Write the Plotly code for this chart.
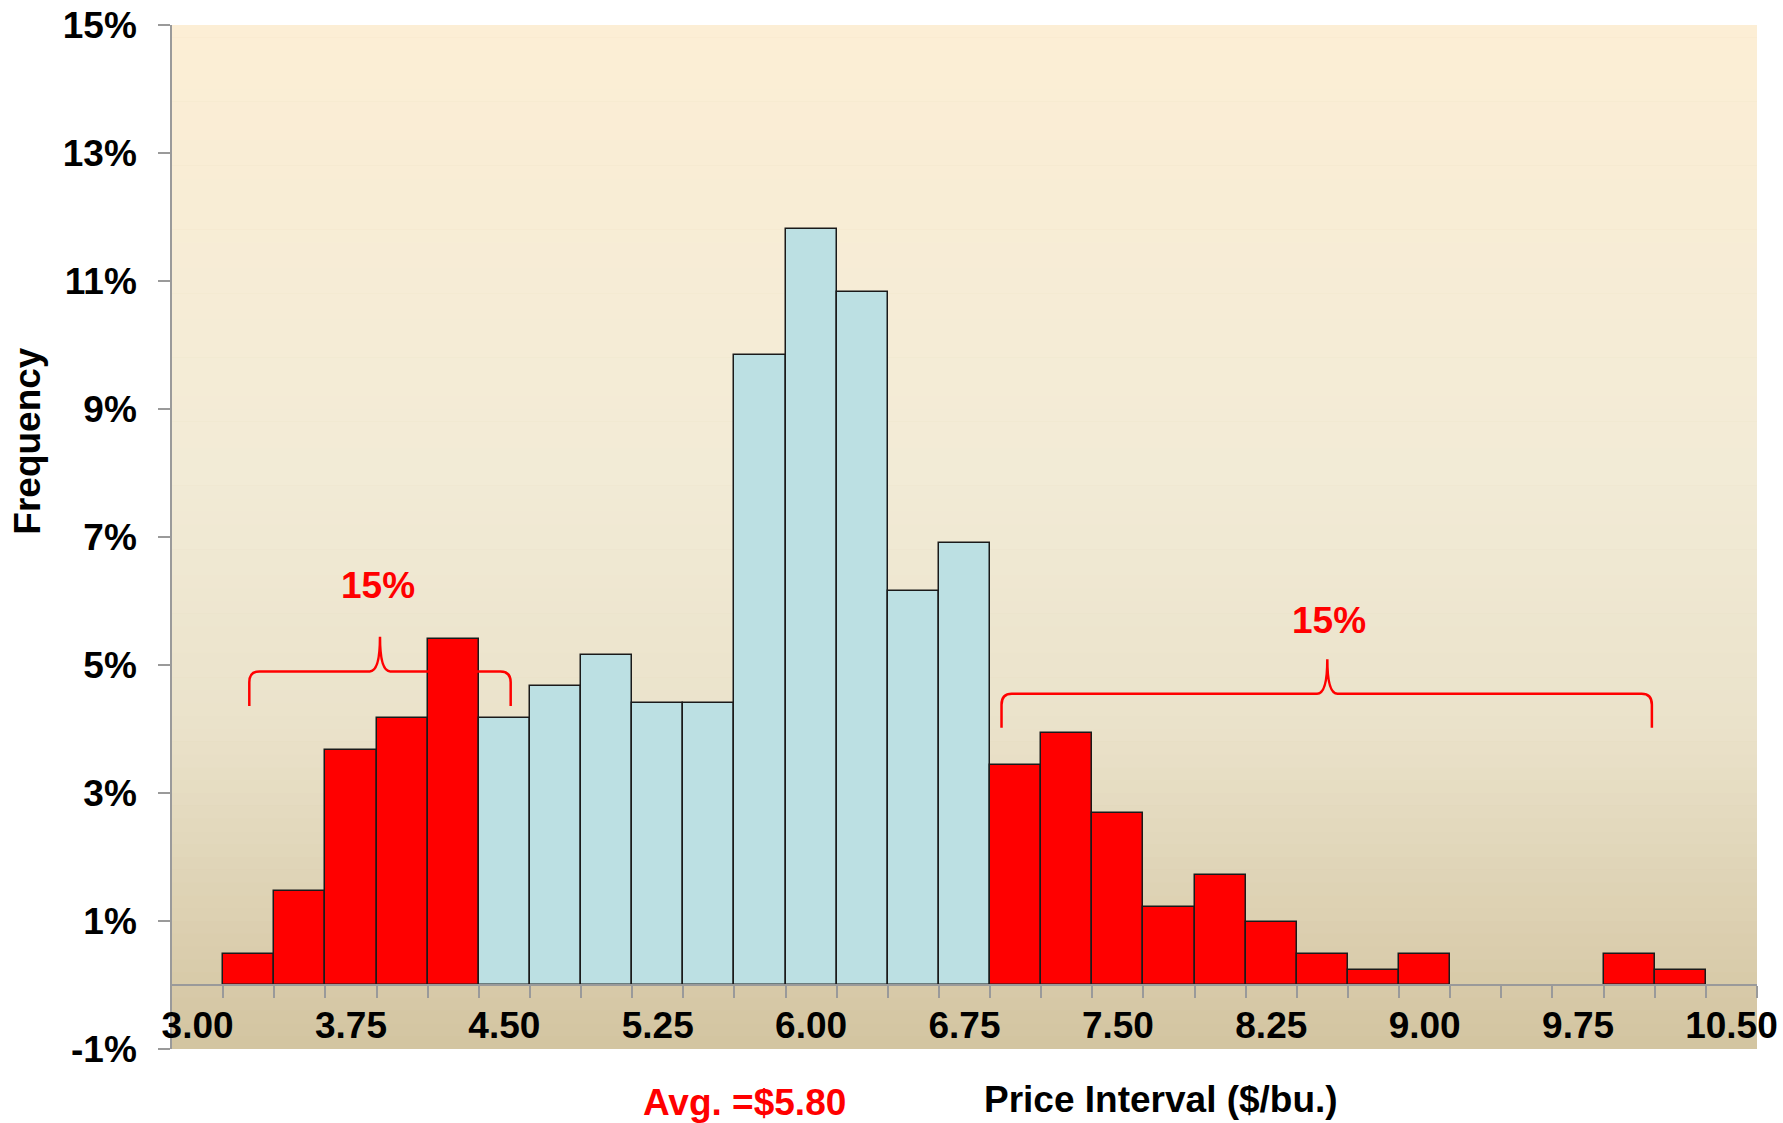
import plotly.graph_objects as go

# histogram bins ($/bu.) and frequency (%)
price_bins = [3.00, 3.25, 3.50, 3.75, 4.00, 4.25, 4.50, 4.75, 5.00, 5.25, 5.50,
              5.75, 6.00, 6.25, 6.50, 6.75, 7.00, 7.25, 7.50, 7.75, 8.00, 8.25,
              8.50, 8.75, 9.00, 9.25, 9.50, 9.75, 10.00, 10.25, 10.50]
freq_pct = [0, 0.48, 1.47, 3.67, 4.17, 5.41, 4.17, 4.67, 5.15, 4.40, 4.40,
            9.84, 11.81, 10.83, 6.16, 6.90, 3.43, 3.93, 2.69, 1.22, 1.72, 0.98,
            0.48, 0.24, 0.48, 0, 0, 0, 0.48, 0.24, 0]
y_ticks = [-1, 1, 3, 5, 7, 9, 11, 13, 15]

lower_tail_end = 4.25
upper_tail_start = 7.00
lower_tail_share = "15%"
upper_tail_share = "15%"
avg_price = 5.80

RED = "#FF0000"
BLUE = "#BCE0E3"
FONT = "Liberation Sans, Arial"
bin_w = 0.25

xs = [p for p, f in zip(price_bins, freq_pct) if f > 0]
ys = [f for f in freq_pct if f > 0]
cols = [RED if (p <= lower_tail_end or p >= upper_tail_start) else BLUE for p in xs]

fig = go.Figure()
fig.add_trace(go.Bar(x=xs, y=ys, width=bin_w, marker=dict(color=cols, line=dict(color="#1a1a1a", width=1.5)),
                     showlegend=False, hoverinfo="x+y"))

# gradient background drawn as thin bands
stops = [(-1, (211, 196, 160)), (4, (234, 226, 202)), (8, (242, 235, 214)), (15, (252, 238, 213))]
def col_at(v):
    for (a, ca), (b, cb) in zip(stops[:-1], stops[1:]):
        if a <= v <= b:
            t = (v - a) / (b - a)
            return "rgb(%d,%d,%d)" % tuple(round(ca[i] + (cb[i] - ca[i]) * t) for i in range(3))
    return "rgb(252,238,213)"
n_band = 80
for i in range(n_band):
    y0 = -1 + 16 * i / n_band
    y1 = -1 + 16 * (i + 1) / n_band
    fig.add_shape(type="rect", xref="paper", yref="y", x0=0, x1=1, y0=y0, y1=y1 + 0.01,
                  fillcolor=col_at((y0 + y1) / 2), line_width=0, layer="below")

# braces marking the tails
def brace(x0, x1, xm, yh, yend, ytip, rx=0.05, ry=0.17):
    return (f"M {x0},{yend} L {x0},{yh-ry} Q {x0},{yh} {x0+rx},{yh} L {xm-rx},{yh} "
            f"Q {xm},{yh} {xm},{ytip} Q {xm},{yh} {xm+rx},{yh} L {x1-rx},{yh} "
            f"Q {x1},{yh} {x1},{yh-ry} L {x1},{yend}")

fig.add_shape(type="path", xref="x", yref="y", path=brace(3.253, 4.531, 3.892, 4.90, 4.36, 5.44),
              line=dict(color=RED, width=2.5))
fig.add_shape(type="path", xref="x", yref="y", path=brace(6.931, 10.111, 8.524, 4.55, 4.02, 5.09),
              line=dict(color=RED, width=2.5))

big = dict(family=FONT, size=37, color="black", weight="bold")
red = dict(family=FONT, size=37, color=RED, weight="bold")
ann = dict(showarrow=False, xanchor="center", yanchor="middle")
fig.add_annotation(x=3.88, y=6.25, xref="x", yref="y", text=lower_tail_share, font=red, **ann)
fig.add_annotation(x=8.53, y=5.70, xref="x", yref="y", text=upper_tail_share, font=red, **ann)
fig.add_annotation(x=-0.0909, y=0.594, xref="paper", yref="paper", text="Frequency", textangle=-90,
                   font=big, **ann)
fig.add_annotation(x=0.624, y=-0.0498, xref="paper", yref="paper", text="Price Interval ($/bu.)",
                   font=big, **ann)
fig.add_annotation(x=0.3615, y=-0.0527, xref="paper", yref="paper", text=f"Avg. =${avg_price:.2f}",
                   font=red, **ann)

major = price_bins[::3]
fig.update_xaxes(range=[price_bins[0] - bin_w / 2, price_bins[-1] + bin_w / 2],
                 anchor="free", position=1 / 16, showline=True, linecolor="#9a9a9a", linewidth=1.5,
                 showgrid=False, zeroline=False, automargin=False, ticklabeloverflow="allow",
                 tickvals=major, ticktext=[f"{p:.2f}" for p in major],
                 ticks="outside", ticklen=8, tickcolor="rgba(0,0,0,0)", tickfont=big,
                 minor=dict(tickvals=[p + bin_w / 2 for p in price_bins], ticks="outside",
                            ticklen=12, tickcolor="#9a9a9a", tickwidth=1.5, showgrid=False))
fig.update_yaxes(range=[-1, 15], tickvals=y_ticks, ticktext=[f"{v}%" for v in y_ticks],
                 showline=True, linecolor="#9a9a9a", linewidth=1.5, showgrid=False, zeroline=False,
                 automargin=False, ticklabeloverflow="allow",
                 ticks="outside", ticklen=12, tickcolor="#9a9a9a", tickwidth=1.5, tickfont=big,
                 ticklabelstandoff=14)
fig.update_layout(width=1783, height=1123, margin=dict(l=172, r=26, t=25, b=74),
                  plot_bgcolor="rgb(211,196,160)", paper_bgcolor="white", bargap=0)
# drop the default 8px body margin so the figure fills the window
fig.write_html("out.html", config={"displayModeBar": False},
               post_script="document.body.style.margin='0';")
